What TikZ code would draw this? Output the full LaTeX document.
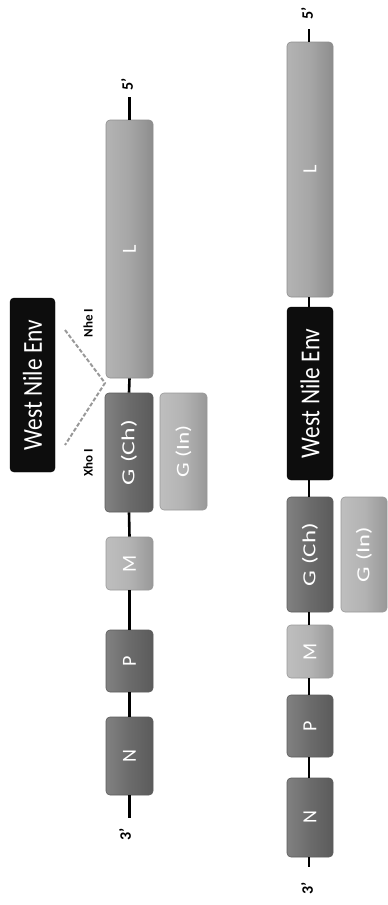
\documentclass[tikz,border=0pt]{standalone}
\usepackage{fontspec}
\setmainfont{Carlito}
\usepackage{graphicx}
\begin{document}
\begin{tikzpicture}[x=1pt,y=-1pt,
  gbox/.style={rounded corners=4pt, inner sep=0pt, draw=#1!85!black, line width=0.6pt, text=white,
     shading=axis, shading angle=90, left color=#1!85!white, right color=#1!85!black, middle color=#1},
  darkbox/.style={gbox=gdark},
  lightbox/.style={gbox=glight},
  lbox/.style={gbox=gmid},
  envbox/.style={rounded corners=4pt, inner sep=0pt, fill=black!95, draw=black, text=white},
  spine/.style={line width=2.6pt, black},
  cut/.style={dashed, dash pattern=on 4pt off 2pt, line width=2pt, gray!80},
  endlab/.style={font=\bfseries\fontsize{16}{16}\selectfont, inner sep=0pt},
  sitelab/.style={font=\bfseries\fontsize{13}{13}\selectfont, inner sep=0pt},
  letter/.style={font=\fontsize{20}{20}\selectfont}
]
\definecolor{gdark}{HTML}{6B6B6B}
\definecolor{glight}{HTML}{B3B3B3}
\definecolor{gmid}{HTML}{A6A6A6}
\useasboundingbox (0,0) rectangle (388,905);

% ---------- top construct ----------
\node[lbox, minimum width=47pt, minimum height=258pt, letter] (L1) at (129.5,249) {\rotatebox{90}{L}};
\node[darkbox, minimum width=48pt, minimum height=119pt] (GC1) at (129,452.5) {\rotatebox{90}{\resizebox*{65pt}{16pt}{G (Ch)}}};
\node[lightbox, minimum width=47pt, minimum height=117pt] (GI1) at (183.5,451.5) {\rotatebox{90}{\resizebox*{52pt}{16pt}{G (In)}}};
\node[lightbox, minimum width=47pt, minimum height=53pt, letter] (M1) at (129.5,563.5) {\rotatebox{90}{M}};
\node[darkbox, minimum width=47pt, minimum height=62pt, letter] (P1) at (129.5,661) {\rotatebox{90}{P}};
\node[darkbox, minimum width=47pt, minimum height=78pt, letter] (N1) at (129.5,756) {\rotatebox{90}{N}};
\node[envbox, minimum width=45pt, minimum height=174pt] (W1) at (32.5,385) {\rotatebox{90}{\resizebox{130pt}{19pt}{West Nile Env}}};

\coordinate (t5) at (129.5,97);
\coordinate (t3) at (129.5,818);
\node[endlab] (five1) at (127,84) {\rotatebox{90}{5’}};
\node[endlab] (three1) at (125,834) {\rotatebox{90}{3’}};
\draw[spine] (t5) -- (L1.north);
\draw[spine] (L1.south) -- (GC1.north);
\draw[spine] (GC1.south) -- (M1.north);
\draw[spine] (M1.south) -- (P1.north);
\draw[spine] (P1.south) -- (N1.north);
\draw[spine] (N1.south) -- (t3);

\coordinate (nhe) at (65,330);
\coordinate (apex) at (105,383);
\coordinate (xho) at (65,445);
\draw[cut] (nhe) -- (apex) -- (xho);
\node[sitelab] (nhelab) at (88,323) {\rotatebox{90}{Nhe I}};
\node[sitelab] (xholab) at (88,463) {\rotatebox{90}{Xho I}};

% ---------- bottom construct ----------
\node[lbox, minimum width=46pt, minimum height=255pt, letter] (L2) at (310,169.5) {\rotatebox{90}{L}};
\node[envbox, minimum width=46pt, minimum height=173pt] (W2) at (310,393.5) {\rotatebox{90}{\resizebox{130pt}{19pt}{West Nile Env}}};
\node[darkbox, minimum width=46pt, minimum height=115pt] (GC2) at (310,554.5) {\rotatebox{90}{\resizebox*{63pt}{16pt}{G (Ch)}}};
\node[lightbox, minimum width=46pt, minimum height=115pt] (GI2) at (364,554.5) {\rotatebox{90}{\resizebox*{55pt}{16pt}{G (In)}}};
\node[lightbox, minimum width=46pt, minimum height=53pt, letter] (M2) at (310,651.5) {\rotatebox{90}{M}};
\node[darkbox, minimum width=46pt, minimum height=62pt, letter] (P2) at (310,726) {\rotatebox{90}{P}};
\node[darkbox, minimum width=46pt, minimum height=79pt, letter] (N2) at (310,817.5) {\rotatebox{90}{N}};

\coordinate (b5) at (309,29);
\coordinate (b3) at (309,867);
\node[endlab] (five2) at (307,13) {\rotatebox{90}{5’}};
\node[endlab] (three2) at (307,888) {\rotatebox{90}{3’}};
\draw[spine] (b5) -- (b5 |- L2.north);
\draw[spine] (L2.south -| b5) -- (W2.north -| b5);
\draw[spine] (W2.south -| b5) -- (GC2.north -| b5);
\draw[spine] (GC2.south -| b5) -- (M2.north -| b5);
\draw[spine] (M2.south -| b5) -- (P2.north -| b5);
\draw[spine] (P2.south -| b5) -- (N2.north -| b5);
\draw[spine] (N2.south -| b5) -- (b3);
\end{tikzpicture}
\end{document}
